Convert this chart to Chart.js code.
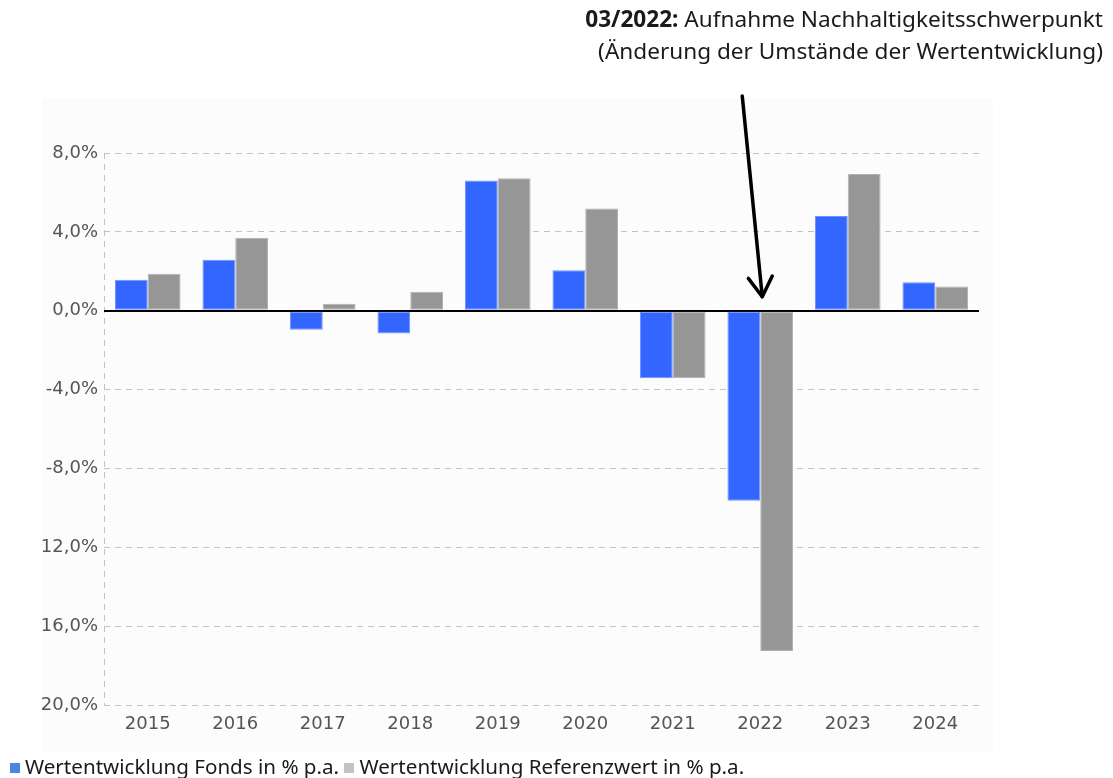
<!DOCTYPE html>
<html lang="de">
<head>
    <meta charset="UTF-8">
    <title>Wertentwicklung Fonds vs. Referenzwert</title>
    <script src="https://cdn.jsdelivr.net/npm/chart.js@4.4.1/dist/chart.umd.min.js"></script>
    <style>
        html, body {
            margin: 0;
            padding: 0;
            background: #fff;
        }
        .wrap {
            position: relative;
            width: 1113px;
            height: 778px;
            overflow: hidden;
        }
        .panel {
            position: absolute;
            left: 42px;
            top: 98px;
            width: 951px;
            height: 654px;
            background: #fcfcfc;
        }
        .chart-box {
            position: absolute;
            left: 0;
            top: 0;
            width: 1113px;
            height: 778px;
        }
        .note {
            position: absolute;
            right: 10px;
            top: 3px;
            text-align: right;
            font-family: "Noto Sans", sans-serif;
            font-size: 22.6px;
            line-height: 32px;
            color: #1a1a1a;
            white-space: nowrap;
        }
        .legend {
            position: absolute;
            left: 10px;
            top: 754px;
            font-family: "Noto Sans", sans-serif;
            font-size: 20.6px;
            line-height: 24px;
            color: #1a1a1a;
            white-space: nowrap;
        }
        .legend .sq {
            display: inline-block;
            width: 10px;
            height: 10px;
            margin-right: 5px;
            vertical-align: 1px;
        }
    </style>
</head>
<body>
<div class="wrap">
    <div class="panel"></div>
    <div class="chart-box">
        <canvas id="perfChart"></canvas>
    </div>
    <div class="note">
        <b>03/2022:</b> Aufnahme Nachhaltigkeitsschwerpunkt<br>
        (Änderung der Umstände der Wertentwicklung)
    </div>
    <div class="legend">
        <span class="sq" style="background:#4d82e6"></span>Wertentwicklung Fonds in % p.a.
        <span class="sq" style="background:#c4c4c4"></span>Wertentwicklung Referenzwert in % p.a.
    </div>
</div>

<script>
    // data
    const years = ['2015', '2016', '2017', '2018', '2019', '2020', '2021', '2022', '2023', '2024'];
    const fondsValues = [1.57, 2.58, -0.96, -1.16, 6.61, 2.05, -3.42, -9.64, 4.81, 1.44];
    const referenzValues = [1.87, 3.70, 0.35, 0.96, 6.72, 5.19, -3.42, -17.26, 6.94, 1.23];
    const yTickValues = [8, 4, 0, -4, -8, -12, -16, -20];
    const yTickLabels = ['8,0%', '4,0%', '0,0%', '-4,0%', '-8,0%', '12,0%', '16,0%', '20,0%'];
    const markerIndex = 7; // 2022

    const tickFont = { family: 'DejaVu Sans', size: 18 };
    const gridGrey = '#c2c2c2';

    // arrow pointing at the 2022 group
    const arrowPlugin = {
        id: 'arrow',
        afterDatasetsDraw(chart) {
            const ctx = chart.ctx;
            const tipX = chart.scales.x.getPixelForValue(markerIndex) + 2;
            const tipY = chart.scales.y.getPixelForValue(0) - 14;
            const startX = tipX - 20;
            const startY = 96;
            const ang = Math.atan2(tipY - startY, tipX - startX);
            const head = 23;
            ctx.save();
            ctx.strokeStyle = '#000';
            ctx.lineWidth = 3.5;
            ctx.lineCap = 'round';
            ctx.lineJoin = 'round';
            ctx.beginPath();
            ctx.moveTo(startX, startY);
            ctx.lineTo(tipX, tipY);
            ctx.stroke();
            ctx.beginPath();
            ctx.moveTo(tipX + head * Math.cos(ang + Math.PI - 0.55), tipY + head * Math.sin(ang + Math.PI - 0.55));
            ctx.lineTo(tipX, tipY);
            ctx.lineTo(tipX + head * Math.cos(ang + Math.PI + 0.55), tipY + head * Math.sin(ang + Math.PI + 0.55));
            ctx.stroke();
            ctx.restore();
        }
    };

    const ctx = document.getElementById('perfChart').getContext('2d');
    new Chart(ctx, {
        type: 'bar',
        data: {
            labels: years,
            datasets: [{
                label: 'Wertentwicklung Fonds in % p.a.',
                data: fondsValues,
                backgroundColor: '#3366ff',
                borderColor: '#6f92ff',
                borderWidth: 1,
                borderSkipped: false
            }, {
                label: 'Wertentwicklung Referenzwert in % p.a.',
                data: referenzValues,
                backgroundColor: '#969696',
                borderColor: '#b0b0b0',
                borderWidth: 1,
                borderSkipped: false
            }]
        },
        options: {
            responsive: true,
            maintainAspectRatio: false,
            animation: false,
            layout: {
                padding: { top: 153, right: 134, bottom: 31, left: 0 }
            },
            datasets: {
                bar: {
                    categoryPercentage: 0.75,
                    barPercentage: 1.0
                }
            },
            scales: {
                x: {
                    // only the left edge line is shown, dashed like the grid
                    grid: {
                        drawTicks: false,
                        color: c => (c.index === 0 ? gridGrey : 'rgba(0,0,0,0)'),
                        lineWidth: 1
                    },
                    border: { display: false, dash: [6, 5] },
                    ticks: {
                        color: '#555',
                        font: tickFont,
                        padding: 9,
                        maxRotation: 0
                    },
                    afterFit(scale) {
                        scale.height = 42;
                    }
                },
                y: {
                    min: -20,
                    max: 8,
                    afterBuildTicks(scale) {
                        scale.ticks = yTickValues.slice().reverse().map(v => ({ value: v }));
                    },
                    ticks: {
                        color: '#555',
                        font: tickFont,
                        padding: 6,
                        callback: function (value) {
                            const i = yTickValues.indexOf(value);
                            return i >= 0 ? yTickLabels[i] : '';
                        }
                    },
                    grid: {
                        drawTicks: false,
                        color: c => (c.tick && c.tick.value === 0 ? '#000' : gridGrey),
                        lineWidth: c => (c.tick && c.tick.value === 0 ? 2 : 1)
                    },
                    border: {
                        display: false,
                        dash: c => (c.tick && c.tick.value === 0 ? [] : [6, 5])
                    },
                    afterFit(scale) {
                        scale.width = 104;
                    }
                }
            },
            plugins: {
                legend: { display: false },
                tooltip: { enabled: false }
            }
        },
        plugins: [arrowPlugin]
    });
</script>
</body>
</html>
